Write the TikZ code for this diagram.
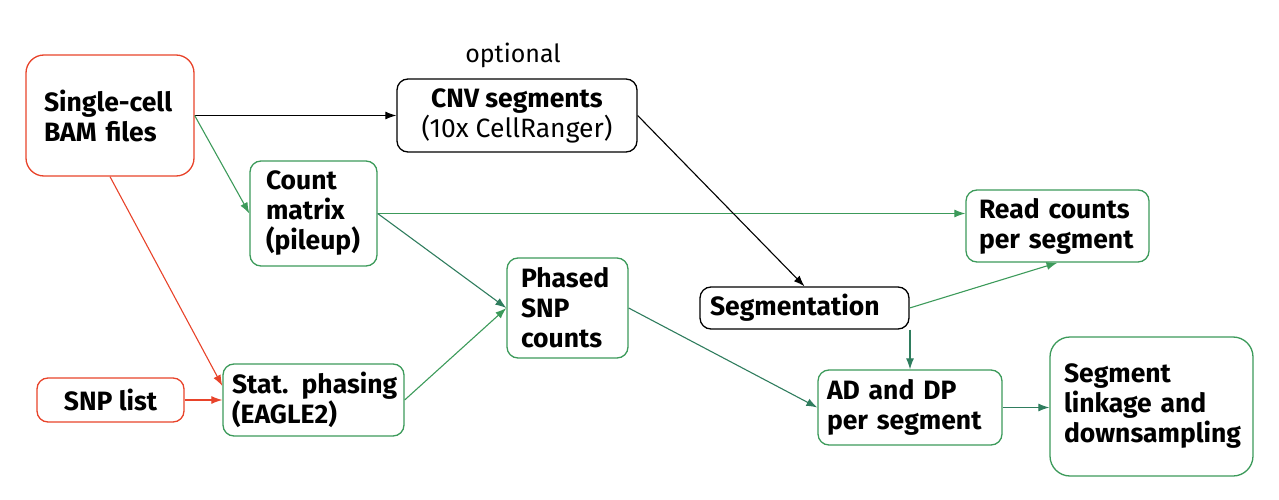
\documentclass[tikz,border=0pt]{standalone}
\usepackage{fontspec}
\setmainfont{Fira Sans}
\usepackage{xcolor}
\usepackage{tikz}
\usetikzlibrary{arrows.meta,positioning,calc}
\definecolor{bamred}{HTML}{E8432A}
\definecolor{boxgreen}{HTML}{3C9A5A}
\definecolor{darkgreen}{HTML}{2F7D5E}
\tikzset{
  box/.style = {draw, line width = 1.3pt, rounded corners = 11pt, align = left,
    inner xsep = 0pt, inner ysep = 0pt,
    font = \fontsize{26.5}{30}\selectfont\bfseries},
  flow/.style = {-{Latex[length = 11pt, width = 8pt]}, line width = 1.1pt}
}
\begin{document}
\begin{tikzpicture}[x = 1pt, y = -1pt]
    \useasboundingbox (0,0) rectangle (1279,500);
    \node[box, draw = bamred, rounded corners = 18pt, minimum width = 168pt, minimum height = 121pt, text width = 132pt] (bam) at (110,115.5) {Single-cell\\BAM files};
    \node[box, align = center, minimum width = 240pt, minimum height = 73pt] (cnv) at (517,115.5) {CNV segments\\{\mdseries (10x CellRanger)}};
    \node[font = \fontsize{25}{28}\selectfont] (opt) at (513,55) {optional};
    \node[box, draw = boxgreen, minimum width = 127pt, minimum height = 105pt, text width = 95pt] (count) at (313.5,213.5) {Count\\matrix\\(pileup)};
    \node[box, draw = boxgreen, minimum width = 183pt, minimum height = 72pt, text width = 157pt] (read) at (1057.5,226) {Read counts\\per segment};
    \node[box, draw = boxgreen, minimum width = 121pt, minimum height = 100pt, text width = 93pt] (phased) at (567.5,308) {Phased\\SNP\\counts};
    \node[box, minimum width = 209pt, minimum height = 42pt, text width = 189pt] (seg) at (804.5,308) {Segmentation};
    \node[box, draw = bamred, align = center, minimum width = 147pt, minimum height = 44pt] (snp) at (110.5,400) {SNP list};
    \node[box, draw = boxgreen, minimum width = 181pt, minimum height = 72pt, text width = 163pt] (stat) at (313.5,400) {\mbox{Stat. phasing}\\(EAGLE2)};
    \node[box, draw = boxgreen, minimum width = 184pt, minimum height = 75pt, text width = 166pt] (ad) at (910,407.5) {AD and DP\\per segment};
    \node[box, draw = boxgreen, rounded corners = 20pt, minimum width = 203pt, minimum height = 139pt, text width = 175pt] (link) at (1151.5,406.5) {Segment\\linkage and\\downsampling};
    % connectors
    \draw[flow] (bam.east) -- (cnv.west);
    \draw[flow, boxgreen] (bam.east) -- (count.west);
    \draw[flow, bamred] (bam.south) -- ([yshift = 14pt]stat.west);
    \draw[flow, bamred] (snp.east) -- (stat.west);
    \draw[flow, boxgreen] (count.east) -- (count.east -| read.west);
    \draw[flow, darkgreen] (count.east) -- (phased.west);
    \draw[flow, boxgreen] (stat.east) -- (phased.west);
    \draw[flow] (cnv.east) -- (seg.north);
    \draw[flow, darkgreen] (phased.east) -- (ad.west);
    \draw[flow, boxgreen] (seg.east) -- (read.south);
    \draw[flow, darkgreen] (ad.north |- seg.south) -- (ad.north);
    \draw[flow, darkgreen] (ad.east) -- (ad.east -| link.west);
\end{tikzpicture}
\end{document}
